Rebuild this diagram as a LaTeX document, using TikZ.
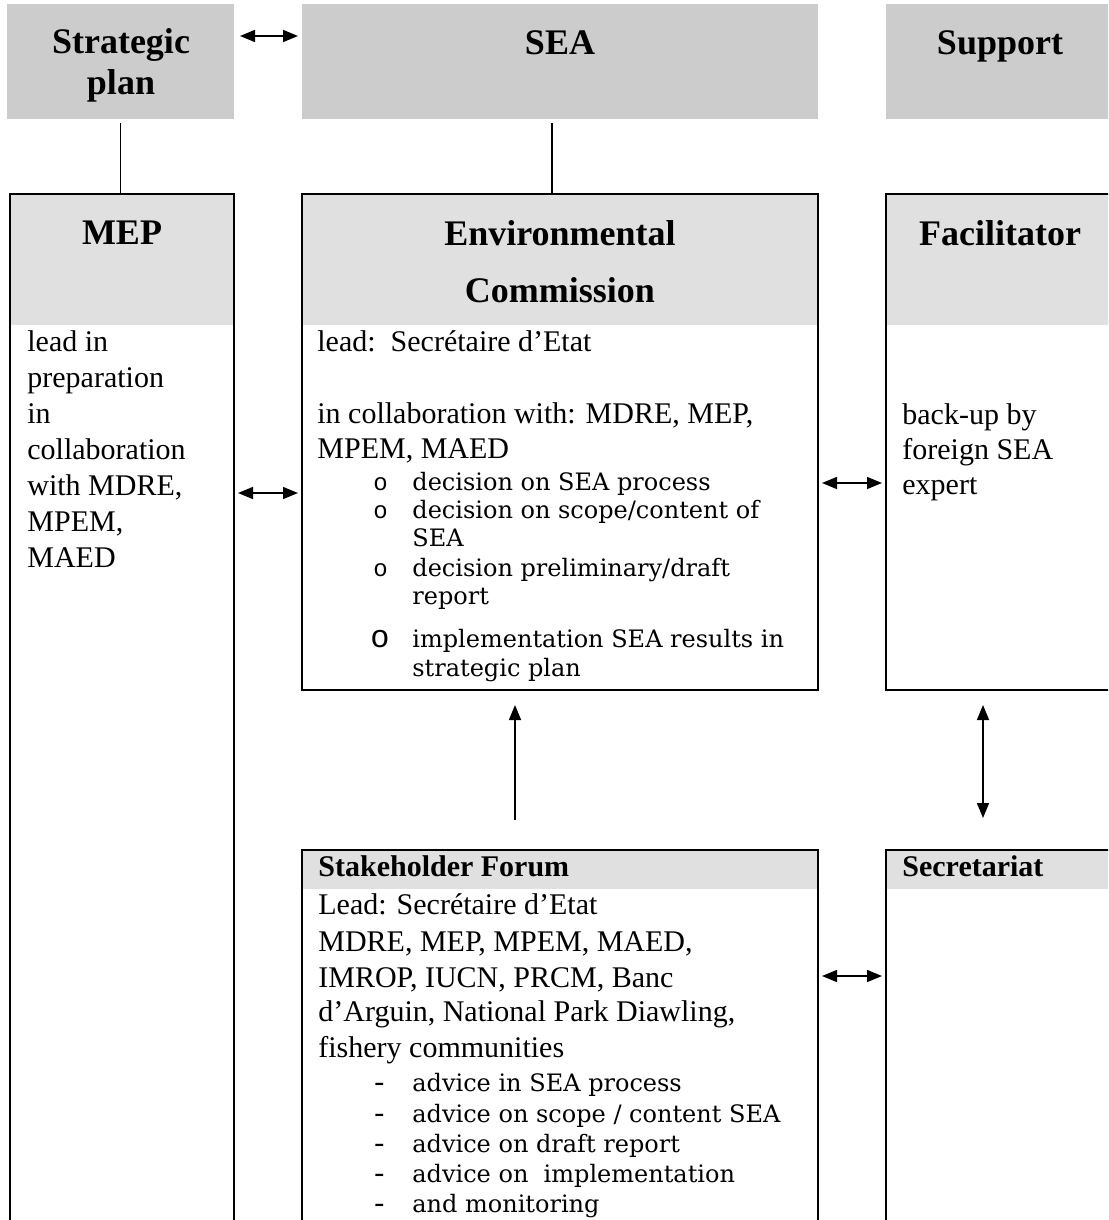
\documentclass[tikz,border=0pt]{standalone}
\usepackage{fontspec}
\setmainfont{Liberation Serif}
\newfontfamily\itemfont{DejaVu Serif}
\newfontfamily\markfont{Liberation Mono}
\usetikzlibrary{arrows.meta}

\definecolor{topgray}{RGB}{204,204,204}
\definecolor{headgray}{RGB}{224,224,224}

\tikzset{
  topbox/.style={fill=topgray, inner sep=0pt, outer sep=0pt, anchor=north west},
  headbar/.style={fill=headgray, inner sep=0pt, outer sep=0pt, anchor=north west},
  orgbox/.style={draw, line width=1pt, inner sep=0pt, outer sep=0pt, anchor=north west},
  bigtitle/.style={font=\fontsize{18}{20.5}\selectfont\bfseries, align=center, inner sep=0pt},
  smalltitle/.style={font=\fontsize{15}{18}\selectfont\bfseries, anchor=mid west, inner sep=0pt},
  bodytext/.style={font=\fontsize{15}{18}\selectfont, anchor=mid west, inner sep=0pt},
  itemtext/.style={font=\itemfont\fontsize{12}{15}\selectfont, anchor=mid west, inner sep=0pt},
  itemmark/.style={font=\markfont\fontsize{12}{15}\selectfont, anchor=mid west, inner sep=0pt},
  link/.style={line width=0.75pt},
  dblarrow/.style={{Triangle[length=7.5pt,width=6pt]}-{Triangle[length=7.5pt,width=6pt]}, line width=0.75pt},
  onearrow/.style={-{Triangle[length=7.5pt,width=6pt]}, line width=0.75pt}
}

\begin{document}
\begin{tikzpicture}[x=0.5pt, y=-0.5pt]
  \useasboundingbox (0,0) rectangle (1108,1220);
  \clip (0,0) rectangle (1108,1220);

  % Top row: grey title boxes
  \node[topbox, minimum width=113.5pt, minimum height=57.5pt] (plan) at (7,4) {};
  \node[topbox, minimum width=258pt, minimum height=57.5pt] (sea) at (302,4) {};
  \node[topbox, minimum width=115pt, minimum height=57.5pt] (support) at (886,4) {};
  \node[bigtitle] (plan-t) at (121,65) {Strategic\\plan};
  \node[bigtitle] (sea-t) at (560,43) {SEA};
  \node[bigtitle] (support-t) at (1000,46) {Support};

  % Second row: header bars, then framed boxes
  \node[headbar, minimum width=112pt, minimum height=65.5pt] (mep-h) at (10,194) {};
  \node[headbar, minimum width=258pt, minimum height=65.5pt] (ec-h) at (302,194) {};
  \node[headbar, minimum width=120pt, minimum height=65.5pt] (fac-h) at (886,194) {};
  \node[orgbox, minimum width=112pt, minimum height=523pt] (mep) at (10,194) {};
  \node[orgbox, minimum width=258pt, minimum height=248pt] (ec) at (302,194) {};
  \node[orgbox, minimum width=120pt, minimum height=248pt] (fac) at (886,194) {};
  \node[bigtitle] (mep-t) at (122,233) {MEP};
  \node[bigtitle, font=\fontsize{18}{28.5}\selectfont\bfseries] (ec-t) at (560,262) {Environmental\\Commission};
  \node[bigtitle] (fac-t) at (1000,233) {Facilitator};

  % Third row: forum and secretariat
  \node[headbar, minimum width=258pt, minimum height=19.5pt] (sf-h) at (302,850) {};
  \node[headbar, minimum width=120pt, minimum height=19.5pt] (sec-h) at (886,850) {};
  \node[orgbox, minimum width=258pt, minimum height=200pt] (sf) at (302,850) {};
  \node[orgbox, minimum width=120pt, minimum height=200pt] (sec) at (886,850) {};
  \node[smalltitle] (sf-t) at (318,872) {Stakeholder Forum};
  \node[smalltitle] (sec-t) at (902,872) {Secretariat};

  % MEP text
  \foreach \t [count=\i] in {lead in, preparation, in, collaboration, {with MDRE,}, {MPEM,}, MAED}
    \node[bodytext] (mep-l\i) at (27,{347+36*(\i-1)}) {\t};

  % Environmental Commission text
  \node[bodytext] (ec-lead) at (317,347) {lead:\ \ Secrétaire d’Etat};
  \node[bodytext] (ec-with) at (317,419) {in collaboration with: MDRE, MEP,};
  \node[bodytext] (ec-min) at (317,454) {MPEM, MAED};
  \foreach \y in {486,514,572}
    \node[itemmark] (ec-m\y) at (373,\y) {o};
  \node[itemmark, font=\markfont\fontsize{16}{16}\selectfont] (ec-m643) at (370,643) {o};
  \foreach \y/\t in {486/decision on SEA process, 514/{decision on scope/content of}, 542/SEA,
                     572/{decision preliminary/draft}, 600/report,
                     643/implementation SEA results in, 672/strategic plan}
    \node[itemtext] (ec-i\y) at (412,\y) {\t};

  % Facilitator text
  \foreach \y/\t in {420/back-up by, 455/foreign SEA, 490/expert}
    \node[bodytext] (fac-l\y) at (902,\y) {\t};

  % Stakeholder Forum text
  \foreach \y/\t in {910/Lead: Secrétaire d’Etat, 947/{MDRE, MEP, MPEM, MAED,},
                     983/{IMROP, IUCN, PRCM, Banc}, 1017/{d’Arguin, National Park Diawling,},
                     1053/fishery communities}
    \node[bodytext] (sf-l\y) at (318,\y) {\t};
  \foreach \y/\t in {1087/advice in SEA process, 1118/{advice on scope / content SEA},
                     1148/advice on draft report, 1178/{advice on\ \ implementation},
                     1208/and monitoring}
  {
    \node[bodytext] (sf-m\y) at (374,\y) {-};
    \node[itemtext] (sf-i\y) at (412,\y) {\t};
  }

  % Connectors
  \draw[link, shorten <=2pt] (plan.south) -- (plan.south |- mep.north);
  \draw[link, shorten <=2pt] ([xshift=-4pt]sea.south) -- ([xshift=-4pt]sea.south |- ec.north);
  \draw[dblarrow, shorten <=3pt, shorten >=2pt] ([yshift=-16pt]plan.north east) -- ([yshift=-16pt]sea.north west);
  \draw[dblarrow, shorten <=2pt, shorten >=2pt] ([yshift=-149.5pt]mep.north east) -- ([yshift=-149.5pt]ec.north west);
  \draw[dblarrow, shorten <=2pt, shorten >=2pt] ([yshift=-144.5pt]ec.north east) -- ([yshift=-144.5pt]fac.north west);
  \draw[onearrow, shorten <=15pt, shorten >=7.5pt] ([xshift=106.5pt]sf.north west) -- ([xshift=106.5pt]ec.south west);
  \draw[dblarrow, shorten <=7.5pt, shorten >=16pt] ([xshift=48.5pt]fac.south west) -- ([xshift=48.5pt]sec.north west);
  \draw[dblarrow, shorten <=2pt, shorten >=2pt] ([yshift=-63pt]sf.north east) -- ([yshift=-63pt]sec.north west);
\end{tikzpicture}
\end{document}
